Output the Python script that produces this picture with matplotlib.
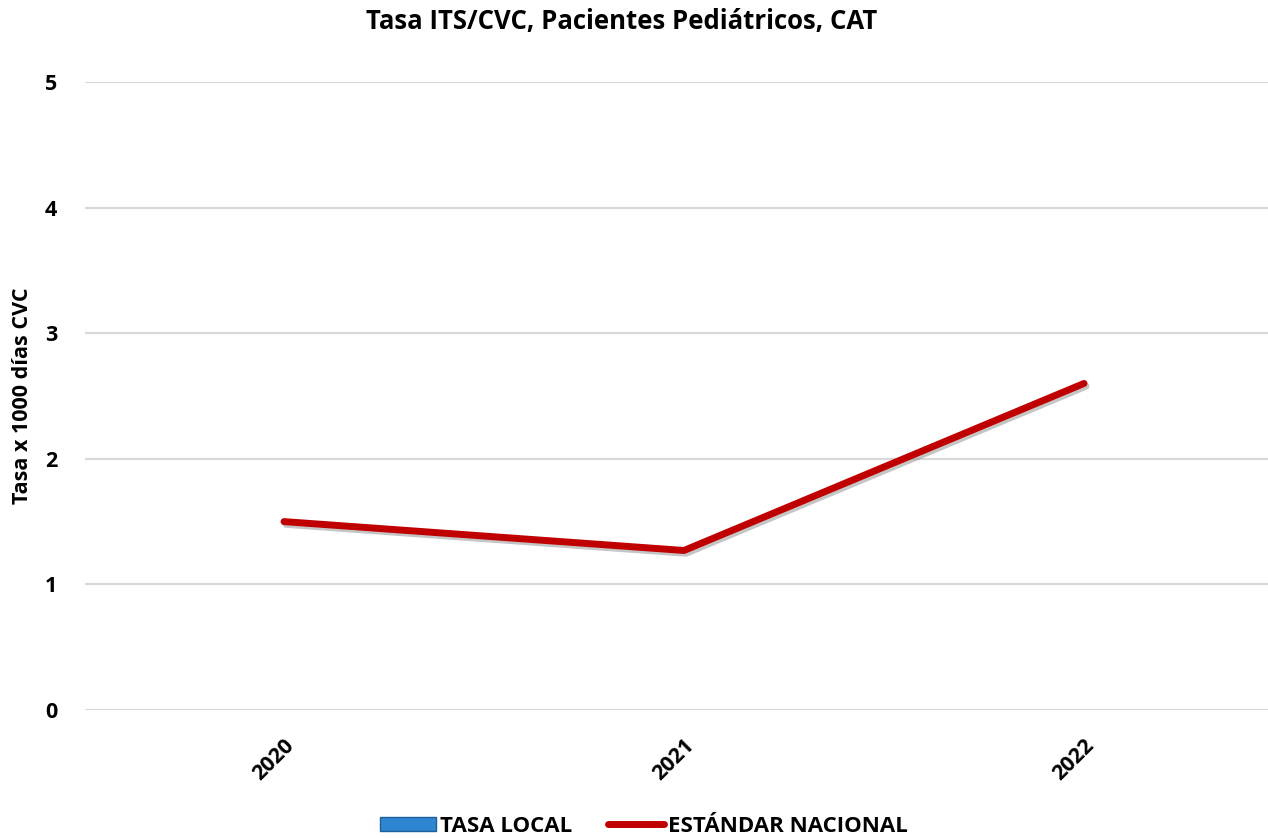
import numpy as np
import matplotlib.pyplot as plt
import matplotlib.patheffects as pe
from matplotlib.patches import Patch
from matplotlib.lines import Line2D

years = ["2020", "2021", "2022"]
tasa_local = [0, 0, 0]
estandar_nacional = [1.5, 1.27, 2.6]
y_ticks = [0, 1, 2, 3, 4, 5]

plt.rcParams['font.family'] = ['Open Sans', 'DejaVu Sans']
plt.rcParams['font.weight'] = 'bold'

fig = plt.figure(figsize=(12.68, 8.38), dpi=100)
ax = fig.add_axes([85 / 1268, 1 - 710 / 838, 1183 / 1268, 628 / 838])

x = np.arange(len(years))
ax.bar(x, tasa_local, width=0.5, color="#2e86d0", linewidth=0)
ax.plot(x, estandar_nacional, color="#c00000", lw=5, solid_capstyle="round",
        solid_joinstyle="round",
        path_effects=[pe.SimpleLineShadow(offset=(1.5, -2), shadow_color="gray", alpha=0.45),
                      pe.Normal()])

ax.set_xlim(-0.4975, 2.46)
ax.set_ylim(0, 5)
ax.set_yticks(y_ticks)
ax.set_yticklabels([str(t) for t in y_ticks], fontsize=15.5, fontweight="bold")
ax.set_xticks(x)
ax.set_xticklabels(years, rotation=45, ha="right", rotation_mode="anchor",
                   fontsize=15.5, fontweight="bold")
ax.tick_params(axis="both", length=0)
ax.tick_params(axis="y", pad=20)
ax.tick_params(axis="x", pad=18)
ax.grid(axis="y", color="#d9d9d9", lw=1.6)
ax.set_axisbelow(True)
for s in ax.spines.values():
    s.set_visible(False)

ax.set_ylabel("Tasa x 1000 días CVC", fontsize=15.5, fontweight="bold")
ax.yaxis.set_label_coords(-52 / 1183, 0.5)

fig.text(0.49, 1 - 22 / 838, "Tasa ITS/CVC, Pacientes Pediátricos, CAT",
         ha="center", va="center", fontsize=18.5, fontweight="bold")

handles = [Patch(facecolor="#2e86d0", edgecolor="#1f5f99"),
           Line2D([0], [0], color="#c00000", lw=5, solid_capstyle="round")]
fig.legend(handles, ["TASA LOCAL", "ESTÁNDAR NACIONAL"], loc="center",
           bbox_to_anchor=(0.508, 1 - 826 / 838), ncol=2, frameon=False,
           prop={"size": 16, "weight": "bold"}, handlelength=2.5,
           handletextpad=0.2, columnspacing=1.6, handleheight=0.6)

fig.savefig("out.png", dpi=100)
